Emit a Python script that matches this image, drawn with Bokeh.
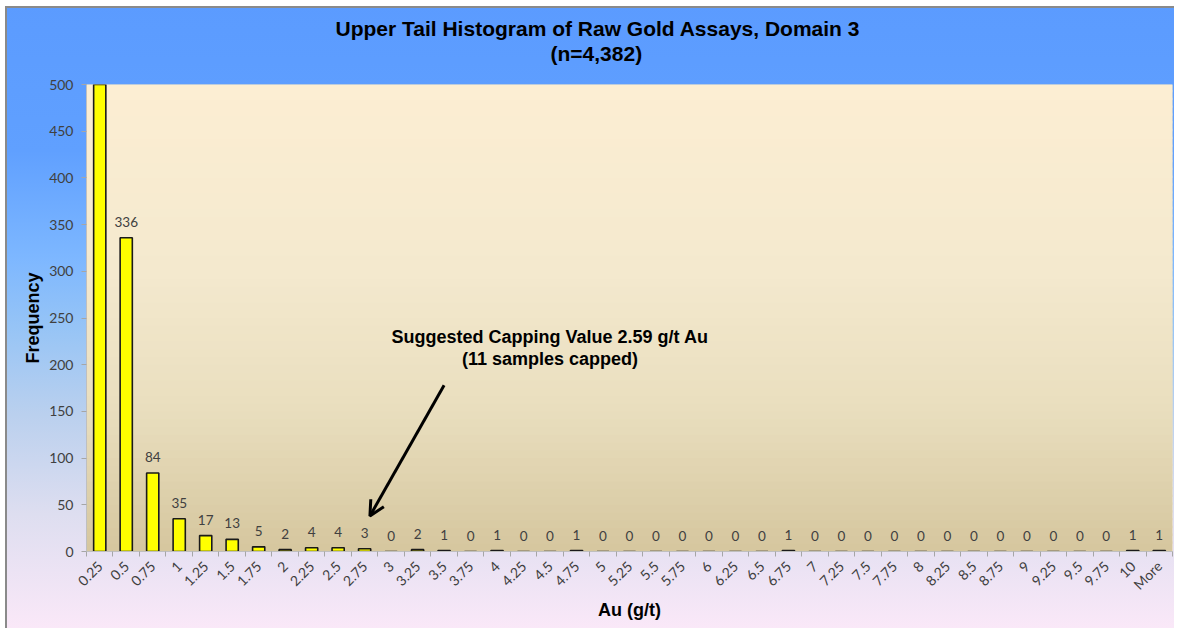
import math
from bokeh.plotting import figure
from bokeh.models import (Range1d, FixedTicker, BoxAnnotation, Label, Arrow, OpenHead,
                          Title, ColumnDataSource)
from bokeh.core.properties import value
from bokeh.embed import file_html
from bokeh.resources import INLINE

# ---------------- data ----------------
bins = ["0.25", "0.5", "0.75", "1", "1.25", "1.5", "1.75", "2", "2.25", "2.5", "2.75",
        "3", "3.25", "3.5", "3.75", "4", "4.25", "4.5", "4.75", "5", "5.25", "5.5",
        "5.75", "6", "6.25", "6.5", "6.75", "7", "7.25", "7.5", "7.75", "8", "8.25",
        "8.5", "8.75", "9", "9.25", "9.5", "9.75", "10", "More"]
freq = [3871, 336, 84, 35, 17, 13, 5, 2, 4, 4, 3,
        0, 2, 1, 0, 1, 0, 0, 1, 0, 0, 0,
        0, 0, 0, 0, 1, 0, 0, 0, 0, 0, 0,
        0, 0, 0, 0, 0, 0, 1, 1]
title_line1 = "Upper Tail Histogram of Raw Gold Assays, Domain 3"
title_line2 = "(n=4,382)"
note_line1 = "Suggested Capping Value 2.59 g/t Au"
note_line2 = "(11 samples capped)"
y_max = 500
y_ticks = list(range(0, 501, 50))

# ---------------- figure ----------------
W, H = 1174, 628
p = figure(width=W, height=H, output_backend="svg", toolbar_location=None,
           x_range=Range1d(-0.5, len(bins) - 0.5), y_range=Range1d(0, y_max),
           min_border_left=86, min_border_right=2, min_border_top=84, min_border_bottom=77)
p.outline_line_color = None
p.grid.grid_line_color = None
p.border_fill_color = None
p.background_fill_color = "#f0e4c4"
p.styles = {"background": (
    "linear-gradient(#ffffff,#ffffff) 0 0 / 100% 6px no-repeat, "
    "linear-gradient(#ffffff,#ffffff) 0 0 / 5px 100% no-repeat, "
    "linear-gradient(#8a8a8a,#8a8a8a) 0 6px / 100% 2px no-repeat, "
    "linear-gradient(#8a8a8a,#8a8a8a) 5px 0 / 2px 100% no-repeat, "
    "linear-gradient(to bottom, #5b9bff 0%, #60a0ff 24%, #7db7ff 41%, "
    "#96c4f6 52%, #bad0ee 66%, #dedef0 82%, #fae8f8 100%)")}


def lerp(stops, t):
    for (t0, c0), (t1, c1) in zip(stops, stops[1:]):
        if t0 <= t <= t1:
            f = (t - t0) / (t1 - t0) if t1 > t0 else 0
            return tuple(int(round(a + (b - a) * f)) for a, b in zip(c0, c1))
    return stops[-1][1]


# plot-area gradient (data y)
inner_stops = [(0, (213, 198, 158)), (150, (233, 222, 190)), (300, (244, 233, 206)),
               (500, (252, 238, 211))]
n_in = 60
for i in range(n_in):
    b = y_max * i / n_in
    t = y_max * (i + 1) / n_in
    c = lerp(inner_stops, (b + t) / 2)
    p.add_layout(BoxAnnotation(bottom=b, top=min(t + 2.5, y_max), fill_color="#%02x%02x%02x" % c,
                               fill_alpha=1.0, line_color=None, level="image"))

# bars
xs = list(range(len(bins)))
src = ColumnDataSource(dict(x=xs, top=freq))
p.vbar(x="x", top="top", width=0.46, source=src, fill_color="#ffff00",
       line_color="#1a1a1a", line_width=1.6)

# data labels
lab_x = [x for x, v in zip(xs, freq) if v <= y_max]
lab_y = [v for v in freq if v <= y_max]
lab_t = [str(v) for v in freq if v <= y_max]
p.text(x=lab_x, y=lab_y, text=lab_t, text_align="center", text_baseline="bottom",
       y_offset=-11, text_font=value("Lato"), text_font_size="13.5px", text_color="#404040")

# axes
p.yaxis.ticker = FixedTicker(ticks=y_ticks)
p.yaxis.axis_line_color = "#bfbfbf"
p.yaxis.major_tick_line_color = "#a6a6a6"
p.yaxis.major_tick_in = 0
p.yaxis.major_tick_out = 5
p.yaxis.minor_tick_line_color = None
p.yaxis.major_label_text_font = "Lato"
p.yaxis.major_label_text_font_size = "14px"
p.yaxis.major_label_text_color = "#404040"
p.yaxis.major_label_standoff = 8
p.yaxis.axis_label = "Frequency"
p.yaxis.axis_label_text_font = "Liberation Sans"
p.yaxis.axis_label_text_font_style = "bold"
p.yaxis.axis_label_text_font_size = "18px"
p.yaxis.axis_label_text_color = "#000000"
p.yaxis.axis_label_standoff = 3

p.xaxis.ticker = FixedTicker(ticks=xs, minor_ticks=[x - 0.5 for x in xs] + [len(xs) - 0.5])
p.xaxis.major_label_overrides = {x: b for x, b in zip(xs, bins)}
p.xaxis.axis_line_color = "#bfbfbf"
p.xaxis.major_tick_line_color = None
p.xaxis.minor_tick_line_color = "#a6a6a6"
p.xaxis.minor_tick_in = 0
p.xaxis.minor_tick_out = 5
p.xaxis.major_label_orientation = math.pi / 4
p.xaxis.major_label_text_font = "Lato"
p.xaxis.major_label_text_font_size = "14px"
p.xaxis.major_label_text_color = "#404040"
p.xaxis.major_label_standoff = 6
p.xaxis.axis_label = "Au (g/t)"
p.xaxis.axis_label_text_font = "Liberation Sans"
p.xaxis.axis_label_text_font_style = "bold"
p.xaxis.axis_label_text_font_size = "18px"
p.xaxis.axis_label_text_color = "#000000"
p.xaxis.axis_label_standoff = -2

# titles (left-aligned with offsets so they centre on the whole chart, as in the original)
p.add_layout(Title(text=title_line2, align="left", offset=464, text_font="Liberation Sans",
                   text_font_style="bold", text_font_size="21px", text_color="#000000",
                   standoff=39), "above")
p.add_layout(Title(text=title_line1, align="left", offset=249, text_font="Liberation Sans",
                   text_font_style="bold", text_font_size="21px", text_color="#000000",
                   standoff=-38), "above")

# annotation
p.add_layout(Arrow(end=OpenHead(size=15, line_width=3, line_color="#000000"),
                   x_start=13.0, y_start=178, x_end=10.2, y_end=38,
                   line_width=3, line_color="#000000"))
for txt, yy in [(note_line1, 230), (note_line2, 206)]:
    p.add_layout(Label(x=17.0, y=yy, text=txt, text_align="center", text_baseline="middle",
                       text_font="Liberation Sans", text_font_style="bold",
                       text_font_size="18px", text_color="#000000"))

open("out.html", "w").write(file_html(p, INLINE))
